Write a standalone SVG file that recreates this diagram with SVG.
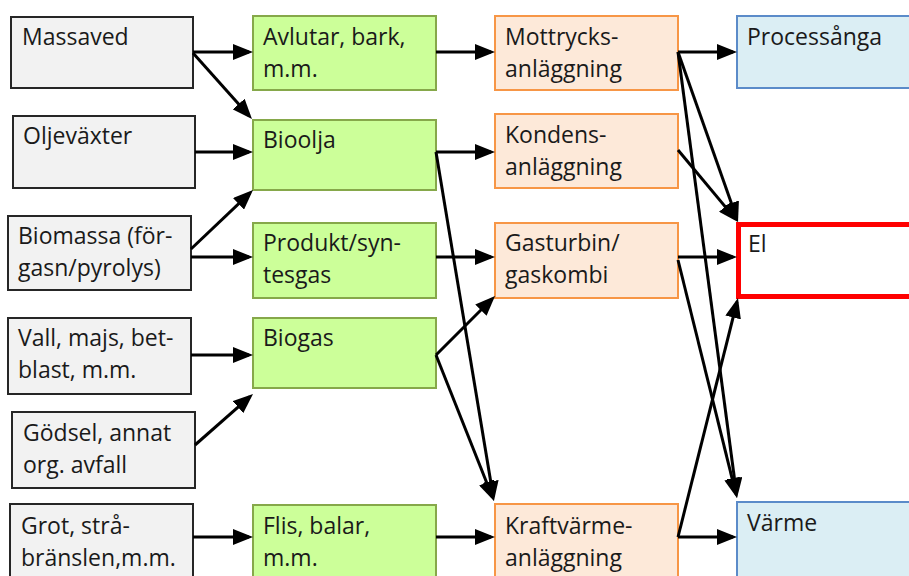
<svg xmlns="http://www.w3.org/2000/svg" width="909" height="576" viewBox="0 0 909 576">
<defs>
<style>
.src{fill:#f2f2f2;stroke:#262626;stroke-width:2}
.fuel{fill:#ccff99;stroke:#86a84a;stroke-width:2}
.plant{fill:#fde9d9;stroke:#f79646;stroke-width:2}
.out{fill:#dbeef4;stroke:#5b8bc9;stroke-width:2}
.el{fill:#ffffff;stroke:#ff0000;stroke-width:5}
text{font-family:"Open Sans","Noto Sans","Liberation Sans",sans-serif;font-size:23px;fill:#1a1a1a}
.c line{stroke:#000;stroke-width:3;marker-end:url(#ah)}
</style>
<marker id="ah" markerUnits="userSpaceOnUse" markerWidth="20" markerHeight="16" refX="16" refY="8" orient="auto">
<path d="M0,0 L20,8 L0,16 z" fill="#000"/>
</marker>
</defs>
<rect width="909" height="576" fill="#ffffff"/>

<g id="massaved"><rect class="src" x="11" y="17" width="182" height="71"/><text x="22" y="45">Massaved</text></g>
<g id="oljevaxter"><rect class="src" x="13" y="116" width="182" height="72"/><text x="23" y="144">Oljeväxter</text></g>
<g id="biomassa"><rect class="src" x="8" y="216" width="183" height="74"/><text x="18" y="244">Biomassa (för-</text><text x="18" y="276">gasn/pyrolys)</text></g>
<g id="vall"><rect class="src" x="8" y="318" width="183" height="76"/><text x="18" y="346">Vall, majs, bet-</text><text x="18" y="378">blast, m.m.</text></g>
<g id="godsel"><rect class="src" x="12" y="412" width="183" height="76"/><text x="23" y="441">Gödsel, annat</text><text x="23" y="473">org. avfall</text></g>
<g id="grot"><rect class="src" x="10" y="504" width="183" height="84"/><text x="21" y="534">Grot, strå-</text><text x="21" y="566">bränslen,m.m.</text></g>

<g id="avlutar"><rect class="fuel" x="253" y="16" width="183" height="74"/><text x="263" y="45">Avlutar, bark,</text><text x="263" y="77">m.m.</text></g>
<g id="bioolja"><rect class="fuel" x="253" y="120" width="183" height="70"/><text x="263" y="148">Bioolja</text></g>
<g id="produkt"><rect class="fuel" x="253" y="223" width="183" height="75"/><text x="263" y="251">Produkt/syn-</text><text x="263" y="283">tesgas</text></g>
<g id="biogas"><rect class="fuel" x="253" y="318" width="183" height="70"/><text x="263" y="346">Biogas</text></g>
<g id="flis"><rect class="fuel" x="253" y="505" width="183" height="84"/><text x="263" y="534">Flis, balar,</text><text x="263" y="566">m.m.</text></g>

<g id="mottrycks"><rect class="plant" x="495" y="16" width="183" height="74"/><text x="505" y="45">Mottrycks-</text><text x="505" y="77">anläggning</text></g>
<g id="kondens"><rect class="plant" x="495" y="114" width="183" height="74"/><text x="505" y="143">Kondens-</text><text x="505" y="175">anläggning</text></g>
<g id="gasturbin"><rect class="plant" x="495" y="223" width="183" height="75"/><text x="505" y="251">Gasturbin/</text><text x="505" y="283">gaskombi</text></g>
<g id="kraftvarme"><rect class="plant" x="495" y="504" width="183" height="84"/><text x="505" y="534">Kraftvärme-</text><text x="505" y="566">anläggning</text></g>

<g id="processanga"><rect class="out" x="737" y="16" width="190" height="72"/><text x="747" y="45">Processånga</text></g>
<g id="el"><rect class="el" x="738.5" y="224.5" width="190" height="72"/><text x="748" y="252">El</text></g>
<g id="varme"><rect class="out" x="737" y="502" width="190" height="86"/><text x="747" y="531">Värme</text></g>

<g id="connectors" class="c">
<line x1="193" y1="52" x2="249" y2="52"/>
<line x1="193" y1="53" x2="249.3" y2="116"/>
<line x1="195" y1="152" x2="249" y2="152"/>
<line x1="191" y1="249" x2="250.1" y2="192.8"/>
<line x1="191" y1="257" x2="249" y2="257"/>
<line x1="191" y1="355" x2="249" y2="355"/>
<line x1="195" y1="445" x2="250" y2="396.6"/>
<line x1="193" y1="537" x2="249" y2="537"/>
<line x1="436" y1="52" x2="491" y2="52"/>
<line x1="436" y1="152" x2="491" y2="152"/>
<line x1="436" y1="152" x2="493.3" y2="497.1"/>
<line x1="436" y1="257" x2="491" y2="257"/>
<line x1="436" y1="355" x2="492.2" y2="298.8"/>
<line x1="436" y1="355" x2="492.5" y2="497.3"/>
<line x1="436" y1="537" x2="491" y2="537"/>
<line x1="678" y1="52" x2="733" y2="52"/>
<line x1="678" y1="52" x2="736.7" y2="218.2"/>
<line x1="678" y1="52" x2="736.5" y2="494"/>
<line x1="678" y1="150" x2="735.4" y2="218.9"/>
<line x1="678" y1="257" x2="733" y2="257"/>
<line x1="678" y1="260" x2="736" y2="494.1"/>
<line x1="678" y1="537" x2="733" y2="537"/>
<line x1="678" y1="537" x2="737" y2="301.9"/>
</g>
</svg>
